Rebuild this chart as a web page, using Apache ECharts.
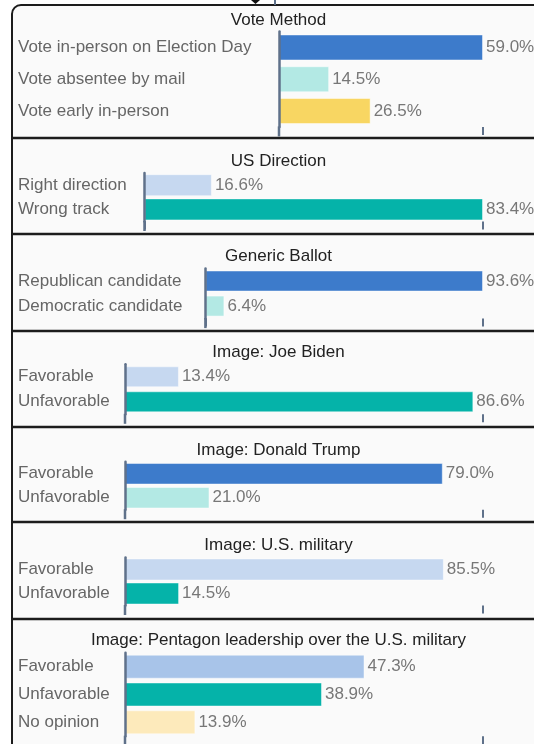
<!DOCTYPE html>
<html><head><meta charset="utf-8">
<script src="https://cdn.jsdelivr.net/npm/echarts@6/dist/echarts.min.js"></script>
<style>html,body{margin:0;padding:0;background:#fff}#c{width:534px;height:744px}</style>
</head><body><div id="c"></div>
<script>
// ---- data ----
const titles = ['Vote Method', 'US Direction', 'Generic Ballot', 'Image: Joe Biden', 'Image: Donald Trump', 'Image: U.S. military', 'Image: Pentagon leadership over the U.S. military'];
const voteMethodCats = ['Vote in-person on Election Day', 'Vote absentee by mail', 'Vote early in-person'];
const voteMethodVals = [59.0, 14.5, 26.5];
const directionCats = ['Right direction', 'Wrong track'];
const directionVals = [16.6, 83.4];
const ballotCats = ['Republican candidate', 'Democratic candidate'];
const ballotVals = [93.6, 6.4];
const bidenCats = ['Favorable', 'Unfavorable'];
const bidenVals = [13.4, 86.6];
const trumpCats = ['Favorable', 'Unfavorable'];
const trumpVals = [79.0, 21.0];
const militaryCats = ['Favorable', 'Unfavorable'];
const militaryVals = [85.5, 14.5];
const pentagonCats = ['Favorable', 'Unfavorable', 'No opinion'];
const pentagonVals = [47.3, 38.9, 13.9];

// ---- styles / layout ----
const C = {blue:'#3d7bcb', cyan:'#b3e9e4', yellow:'#f8d662', pale:'#c6d8f0', teal:'#05b3a9', mid:'#a8c4e9', cream:'#fdeabb'};
const panelCats = [voteMethodCats, directionCats, ballotCats, bidenCats, trumpCats, militaryCats, pentagonCats];
const panelVals = [voteMethodVals, directionVals, ballotVals, bidenVals, trumpVals, militaryVals, pentagonVals];
const panelColors = [
  [C.blue, C.cyan, C.yellow],
  [C.pale, C.teal],
  [C.blue, C.cyan],
  [C.pale, C.teal],
  [C.blue, C.cyan],
  [C.pale, C.teal],
  [C.mid, C.teal, C.cream]
];
const layout = [
  {x:279,   top:31.6,  h:95.3, bw:26,   max:59,   ty:20.5},
  {x:144.5, top:173.1, h:48.4, bw:22,   max:83.4, ty:161.5},
  {x:205.4, top:268.5, h:50.1, bw:21,   max:93.6, ty:256},
  {x:125,   top:364.3, h:50,   bw:21,   max:89,   ty:352},
  {x:125,   top:461.8, h:47.9, bw:21.5, max:89,   ty:450.5},
  {x:125,   top:557.5, h:48,   bw:22,   max:96,   ty:545.5},
  {x:125,   top:652.8, h:83.4, bw:24,   max:70.7, ty:640.5}
];
const AXIS_END = 483;
const FONT = '"Liberation Sans", Arial, sans-serif';
const axisColor = '#5f718a';

const grids = [], xAxes = [], yAxes = [], series = [], title = [];
layout.forEach((L, i) => {
  grids.push({left: L.x, top: L.top, width: AXIS_END - L.x, height: L.h});
  title.push({text: titles[i], left: 273.5, top: L.ty - 5, textAlign: 'center', textVerticalAlign: 'middle',
    textStyle: {fontSize: 17, fontWeight: 'normal', color: '#222', fontFamily: FONT}});
  xAxes.push({gridIndex: i, type: 'value', min: 0, max: L.max, interval: L.max,
    axisLine: {show: false}, axisLabel: {show: false}, splitLine: {show: false},
    axisTick: {show: true, length: 8, lineStyle: {color: axisColor, width: 2}}});
  yAxes.push({gridIndex: i, type: 'category', inverse: true, data: panelCats[i], z: 5,
    axisLine: {show: true, lineStyle: {color: axisColor, width: 2.5},
      symbol: ['rect', 'none'], symbolSize: [2.5, 10], symbolOffset: [-4.5, 0]},
    axisTick: {show: false},
    axisLabel: {margin: L.x - 18, align: 'left', fontSize: 17, color: '#666', fontFamily: FONT}});
  series.push({type: 'bar', xAxisIndex: i, yAxisIndex: i, barWidth: L.bw, animation: false,
    data: panelVals[i].map((v, j) => ({value: v, itemStyle: {color: panelColors[i][j]}})),
    itemStyle: {borderColor: 'rgba(255,255,255,0.45)', borderWidth: 1},
    label: {show: true, position: 'right', distance: 3, fontSize: 17, color: '#777', fontFamily: FONT,
      formatter: p => p.value.toFixed(1) + '%'}});
});

const seps = [138, 234, 331, 427, 522, 619];
const graphic = [
  {type: 'rect', z: -10, shape: {x: 12, y: 5, width: 540, height: 760, r: [9, 0, 0, 0]},
   style: {fill: '#fafafa', stroke: '#1c1c1c', lineWidth: 2}},
  ...seps.map(y => ({type: 'line', z: 10, shape: {x1: 12, y1: y, x2: 540, y2: y}, style: {stroke: '#1c1c1c', lineWidth: 2.5}})),
  {type: 'polygon', z: 10, shape: {points: [[251, 0], [260, 0], [255.5, 4]]}, style: {fill: '#111'}},
  {type: 'line', z: 10, shape: {x1: 275, y1: 0, x2: 275, y2: 5}, style: {stroke: axisColor, lineWidth: 2}}
];

const chart = echarts.init(document.getElementById('c'), null, {renderer: 'canvas'});
chart.setOption({animation: false, backgroundColor: '#fff', title, grid: grids, xAxis: xAxes, yAxis: yAxes, series, graphic});
</script></body></html>
